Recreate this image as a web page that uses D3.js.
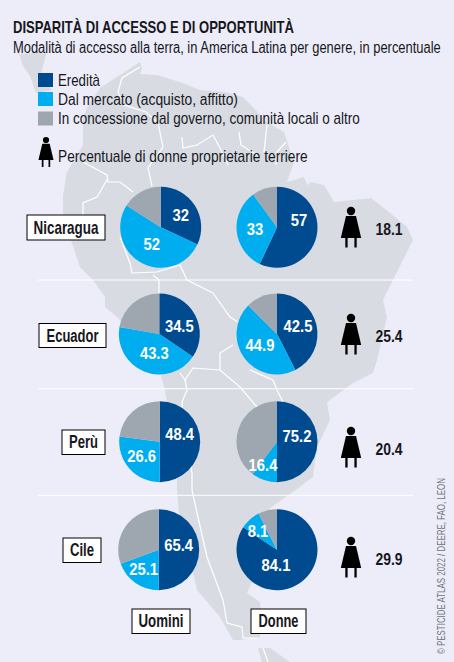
<!DOCTYPE html>
<html><head><meta charset="utf-8">
<script src="https://cdn.jsdelivr.net/npm/d3@7"></script>
<style>
html,body{margin:0;padding:0;background:#ecedf9;}
svg{display:block;}
text{font-family:"Liberation Sans",sans-serif;fill:#17171c;}
</style></head><body><div id="chart"></div>
<script>
const countries = ["Nicaragua","Ecuador","Perù","Cile"];
const groups = ["Uomini","Donne"];
const legendLabels = ["Eredità","Dal mercato (acquisto, affitto)","In concessione dal governo, comunità locali o altro"];

// printed figures
const menInherited = [32,34.5,48.4,65.4];
const menMarket = [52,43.3,26.6,25.1];
const womenInherited = [57,42.5,75.2,84.1];
const womenMarket = [33,44.9,16.4,8.1];
const womenOwners = [18.1,25.4,20.4,29.9];

// slice sizes as actually drawn in the picture (some differ from the printed figure)
const menInheritedDrawn = [32,34.5,50,50];
const menMarketDrawn = [52,43.3,27,19.4];
const womenInheritedDrawn = [57,42.5,50,84.3];
const womenMarketDrawn = [33,44.9,10.3,8.2];

// layout
const W=454,H=662,R=40.5;
const menX=[160.7,159.3,159.7,158.7], womenX=277, rowY=[227.3,334,441.7,549.7];
const colours=["#004b8f","#00aeef","#9ea7b0"];
const offsets={
 men:[[[20,-12],[-9,17]],[[20,-8],[-5,19]],[[20,-8],[-18,14]],[[20,-5],[-15,19]]],
 women:[[[22,-7],[-22,2]],[[21,-8],[-17,11]],[[20,-6],[-14,23]],[[-1,15],[-19,-19]]]
};
const boxes=[[27,215,78,25],[39,323.5,67,24],[62,430,43,24.5],[63,538,38,24.5]];
const boxTextW=[65,52,29,24];
const groupBoxes=[[132,609,58,24.5],[251,609,55,24.5]];
const groupTextW=[45,40];

// background map outline
const land=[[87,108],[100,88],[120,75],[140,62],[142,68],[140,74],[157,75],[180,82],[200,90],[225,92],[243,97],[267,122],[284,132],[294,162],[287,182],[304,177],[307,185],[311,182],[324,185],[334,202],[371,198],[384,208],[407,227],[413,240],[403,260],[393,280],[383,300],[387,317],[377,360],[373,373],[353,383],[330,400],[327,403],[330,420],[317,447],[313,477],[293,492],[270,508],[262,560],[247,593],[260,602],[262,620],[260,637],[240,640],[233,640],[220,617],[197,590],[190,560],[180,530],[177,490],[177,470],[168,410],[165,390],[160,373],[118,318],[105,307],[105,297],[93,280],[80,267],[70,237],[63,213],[63,195],[67,172],[83,145],[83,118]];
const isthmus=[[19,54],[47,52],[43,66],[40,78],[52,90],[36,93],[30,76],[23,66]];
const fuego=[[258,648],[270,648],[290,662],[262,662]];
const borders=[
 [[140,67],[122,78],[118,92],[124,105],[146,112],[158,123],[163,147],[148,168],[152,186]],
 [[182,137],[183,148],[197,145],[213,135],[220,148],[228,165]],
 [[239,132],[241,145],[257,155]],
 [[267,125],[264,152]],
 [[286,142],[277,152],[276,165]],
 [[83,162],[107,175],[108,182],[120,182],[133,192]],
 [[108,178],[97,197],[83,203],[83,215]],
 [[120,237],[130,263],[132,273],[157,272],[180,265],[187,280],[213,293],[230,317],[238,322]],
 [[153,275],[159,280],[159,295]],
 [[180,373],[185,380],[193,368],[220,370],[240,387],[257,407]],
 [[220,370],[220,353],[233,345]],
 [[185,380],[187,390],[182,402],[183,420],[192,473],[192,490],[197,513],[207,557],[223,600],[227,623],[242,627],[243,638],[257,638]],
 [[250,370],[273,380],[277,390],[283,402]],
 [[263,648],[268,662]]
];

const svg=d3.select("#chart").append("svg").attr("width",W).attr("height",H).attr("viewBox",[0,0,W,H]);
svg.append("rect").attr("width",W).attr("height",H).attr("fill","#ecedf9");

const closed=d3.line().curve(d3.curveLinearClosed);
const open=d3.line();
svg.append("g").attr("fill","#d8dce2").selectAll("path").data([land,isthmus,fuego]).join("path").attr("d",closed);
svg.append("g").attr("fill","none").attr("stroke","#fff").attr("stroke-width",1.2).selectAll("path").data(borders).join("path").attr("d",open);

// separators
svg.append("g").attr("stroke","#fff").attr("stroke-width",1).selectAll("line").data([280,388.7,495.3]).join("line")
  .attr("x1",38).attr("x2",413).attr("y1",d=>d).attr("y2",d=>d);

// text squeezed horizontally to imitate the condensed face
function label(parent,t,x,y,size,o={}){
  const el=parent.append("text").attr("font-size",size).attr("font-weight",o.bold?700:400)
    .attr("text-anchor",o.anchor||"start").text(t);
  if(o.fill) el.style("fill",o.fill);
  const len=el.node().getComputedTextLength();
  const sx=o.width?o.width/len:(o.sx||0.87);
  el.attr("transform",`translate(${x},${y})${o.rotate?` rotate(${o.rotate})`:""} scale(${sx},1)`);
  return el;
}

// title
label(svg,"DISPARITÀ DI ACCESSO E DI OPPORTUNITÀ",13,33,16.5,{bold:true,width:281});
label(svg,"Modalità di accesso alla terra, in America Latina per genere, in percentuale",13,52.5,16,{width:428});

// legend
const legendW=[42,180,302];
legendLabels.forEach((t,i)=>{
  const y=[73,92,111.5][i];
  svg.append("rect").attr("x",38).attr("y",y).attr("width",15).attr("height",14).attr("fill",colours[i]);
  label(svg,t,58,y+12.5,16,{width:legendW[i]});
});
label(svg,"Percentuale di donne proprietarie terriere",58,162,16,{width:250});

// woman icon
function woman(x,y,k){
  const g=svg.append("g").attr("transform",`translate(${x},${y}) scale(${k})`).attr("fill","#000");
  g.append("circle").attr("cx",0).attr("cy",0).attr("r",4.2);
  g.append("path").attr("d",d3.line()([[-5,5],[5,5],[10.2,27],[-10.2,27]]));
  g.append("rect").attr("x",-5.7).attr("y",27).attr("width",2.3).attr("height",9.5);
  g.append("rect").attr("x",3.4).attr("y",27).attr("width",2.3).attr("height",9.5);
}
woman(46,140,0.74);

// pies
const pie=d3.pie().sort(null).value(d=>d);
const arc=d3.arc().innerRadius(0).outerRadius(R);
function drawPie(cx,cy,inh,mkt,printed,off){
  const g=svg.append("g").attr("transform",`translate(${cx},${cy})`);
  g.selectAll("path").data(pie([inh,mkt,100-inh-mkt])).join("path").attr("d",arc).attr("fill",(d,i)=>colours[i]);
  printed.forEach((v,i)=>label(g,v,off[i][0],off[i][1]+6,17,{bold:true,anchor:"middle",fill:"#fff",sx:0.87}));
}
countries.forEach((c,i)=>{
  drawPie(menX[i],rowY[i],menInheritedDrawn[i],menMarketDrawn[i],[menInherited[i],menMarket[i]],offsets.men[i]);
  drawPie(womenX,rowY[i],womenInheritedDrawn[i],womenMarketDrawn[i],[womenInherited[i],womenMarket[i]],offsets.women[i]);
  woman(351,[211,318,431,541][i],1);
  label(svg,womenOwners[i],389,[235,342,455,565][i],17,{bold:true,anchor:"middle",sx:0.82});
});

// label boxes
function box(b,t,w){
  svg.append("rect").attr("x",b[0]).attr("y",b[1]).attr("width",b[2]).attr("height",b[3]).attr("fill","#fff").attr("stroke","#000").attr("stroke-width",1);
  label(svg,t,b[0]+b[2]/2,b[1]+b[3]/2+6,17.5,{bold:true,anchor:"middle",width:w});
}
countries.forEach((c,i)=>box(boxes[i],c,boxTextW[i]));
groups.forEach((c,i)=>box(groupBoxes[i],c,groupTextW[i]));

// credit
label(svg,"© PESTICIDE ATLAS 2022 / DEERE, FAO, LEON",445,654,11,{rotate:-90,width:176,fill:"#6f747c"});
</script></body></html>
